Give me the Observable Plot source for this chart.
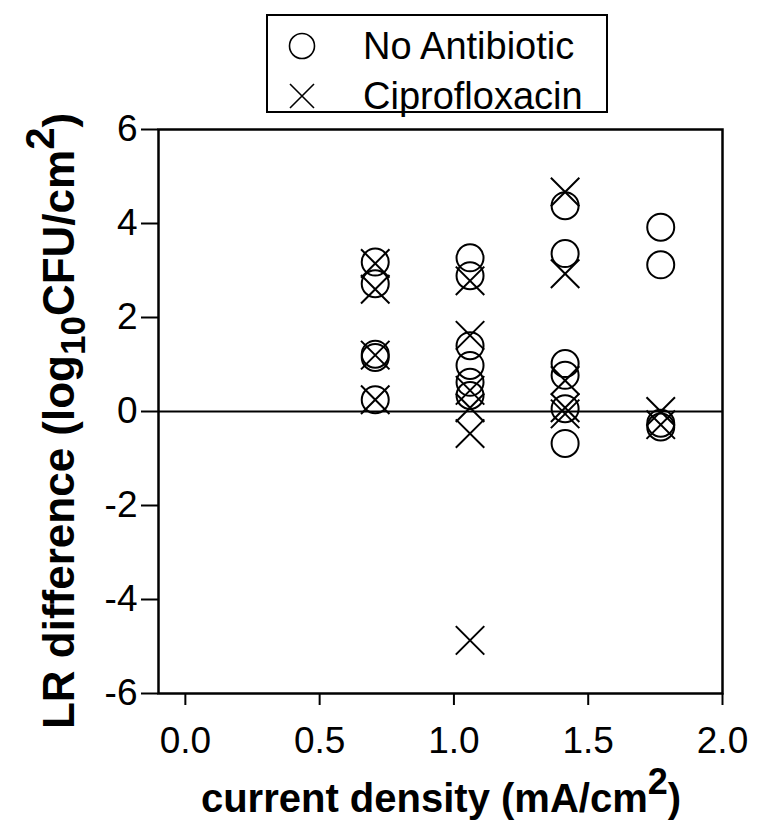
<!DOCTYPE html>
<html>
<head>
<meta charset="utf-8">
<script src="https://cdn.jsdelivr.net/npm/d3@7"></script>
<script src="https://cdn.jsdelivr.net/npm/@observablehq/plot@0.6"></script>
<style>
  html, body { margin: 0; padding: 0; background: #fff; }
  #wrap { position: relative; width: 757px; height: 832px; font-family: "Liberation Sans", Arial, sans-serif; }
  #legend { position: absolute; left: 266px; top: 14px; width: 338px; height: 95px; border: 2px solid #000; background: #fff; }
  .row { position: absolute; left: 0; height: 48px; display: flex; align-items: center; font-size: 38px; color: #000; white-space: nowrap; }
  .row svg { margin-left: 18px; margin-right: 45px; }
</style>
</head>
<body>
<div id="wrap">
  <div id="chart"></div>
  <div id="legend">
    <div class="row" style="top:6px"><svg width="32" height="32" viewBox="-16 -16 32 32"><circle r="12.5" fill="none" stroke="#000" stroke-width="1.6"/></svg><span>No Antibiotic</span></div>
    <div class="row" style="top:56px"><svg width="32" height="32" viewBox="-16 -16 32 32"><path d="M-12,-12L12,12M12,-12L-12,12" fill="none" stroke="#000" stroke-width="1.6"/></svg><span>Ciprofloxacin</span></div>
  </div>
</div>
<script>
// current density values (mA/cm^2)
const currents = [0.707, 1.06, 1.414, 1.77];

// No Antibiotic: LR difference per current density
const noAntibioticX = [0.707, 0.707, 0.707, 0.707, 0.707,
                       1.06, 1.06, 1.06, 1.06, 1.06, 1.06,
                       1.414, 1.414, 1.414, 1.414, 1.414, 1.414,
                       1.77, 1.77, 1.77, 1.77];
const noAntibioticY = [3.18, 2.72, 1.22, 1.15, 0.25,
                       3.27, 2.89, 1.40, 0.98, 0.62, 0.34,
                       4.38, 3.36, 1.02, 0.77, 0.06, -0.68,
                       3.92, 3.12, -0.25, -0.33];

// Ciprofloxacin
const ciproX = [0.707, 0.707, 0.707, 0.707,
                1.06, 1.06, 1.06, 1.06, 1.06, 1.06,
                1.414, 1.414, 1.414, 1.414, 1.414,
                1.77, 1.77];
const ciproY = [3.15, 2.60, 1.20, 0.25,
                2.78, 1.62, 0.45, 0.08, -0.47, -4.87,
                4.67, 2.93, 0.66, 0.08, -0.05,
                0.00, -0.28];

const xTicks = [0.0, 0.5, 1.0, 1.5, 2.0];
const yTicks = [-6, -4, -2, 0, 2, 4, 6];

const noAb = noAntibioticX.map((x, i) => ({x, y: noAntibioticY[i]}));
const cipro = ciproX.map((x, i) => ({x, y: ciproY[i]}));

const plot = Plot.plot({
  width: 757,
  height: 832,
  marginLeft: 158,
  marginRight: 35,
  marginTop: 129,
  marginBottom: 139,
  style: { fontFamily: "'Liberation Sans', Arial, sans-serif", fontSize: "37px", color: "#000", background: "#fff" },
  x: { domain: [-0.1, 2.0], label: null },
  y: { domain: [-6, 6], label: null },
  marks: [
    Plot.axisX({ ticks: xTicks, tickFormat: d3.format(".1f"), tickSize: 12, tickPadding: 21, stroke: "#000", strokeWidth: 2, fontSize: 37, label: null }),
    Plot.axisY({ ticks: yTicks, tickFormat: d => String(d), tickSize: 17, tickPadding: 4, stroke: "#000", strokeWidth: 2, fontSize: 37, label: null }),
    Plot.ruleY([0], { stroke: "#000", strokeWidth: 2 }),
    Plot.dot(noAb, { x: "x", y: "y", symbol: "circle", r: 13.5, stroke: "#000", strokeWidth: 2, fill: "none" }),
    Plot.dot(cipro, { x: "x", y: "y", symbol: "times", r: 13, stroke: "#000", strokeWidth: 2, fill: "none" }),
    Plot.frame({ stroke: "#000", strokeWidth: 2.5 })
  ]
});

document.getElementById("chart").appendChild(plot);

// axis titles with super/subscripts
const svg = d3.select(plot);
const xt = svg.append("text")
  .attr("x", 441).attr("y", 812)
  .attr("text-anchor", "middle")
  .attr("font-family", "'Liberation Sans', Arial, sans-serif")
  .attr("font-weight", "bold").attr("font-size", 40).attr("fill", "#000");
xt.append("tspan").text("current density (mA/cm");
xt.append("tspan").attr("dy", -18).attr("font-size", 36).text("2");
xt.append("tspan").attr("dy", 18).text(")");

const yt = svg.append("text")
  .attr("transform", "translate(74,421) rotate(-90)")
  .attr("text-anchor", "middle")
  .attr("font-family", "'Liberation Sans', Arial, sans-serif")
  .attr("font-weight", "bold").attr("font-size", 44).attr("fill", "#000");
yt.append("tspan").text("LR difference (log");
yt.append("tspan").attr("dy", 11).attr("font-size", 35).text("10");
yt.append("tspan").attr("dy", -11).text("CFU/cm");
yt.append("tspan").attr("dy", -20).attr("font-size", 40).text("2");
yt.append("tspan").attr("dy", 20).text(")");
</script>
</body>
</html>
